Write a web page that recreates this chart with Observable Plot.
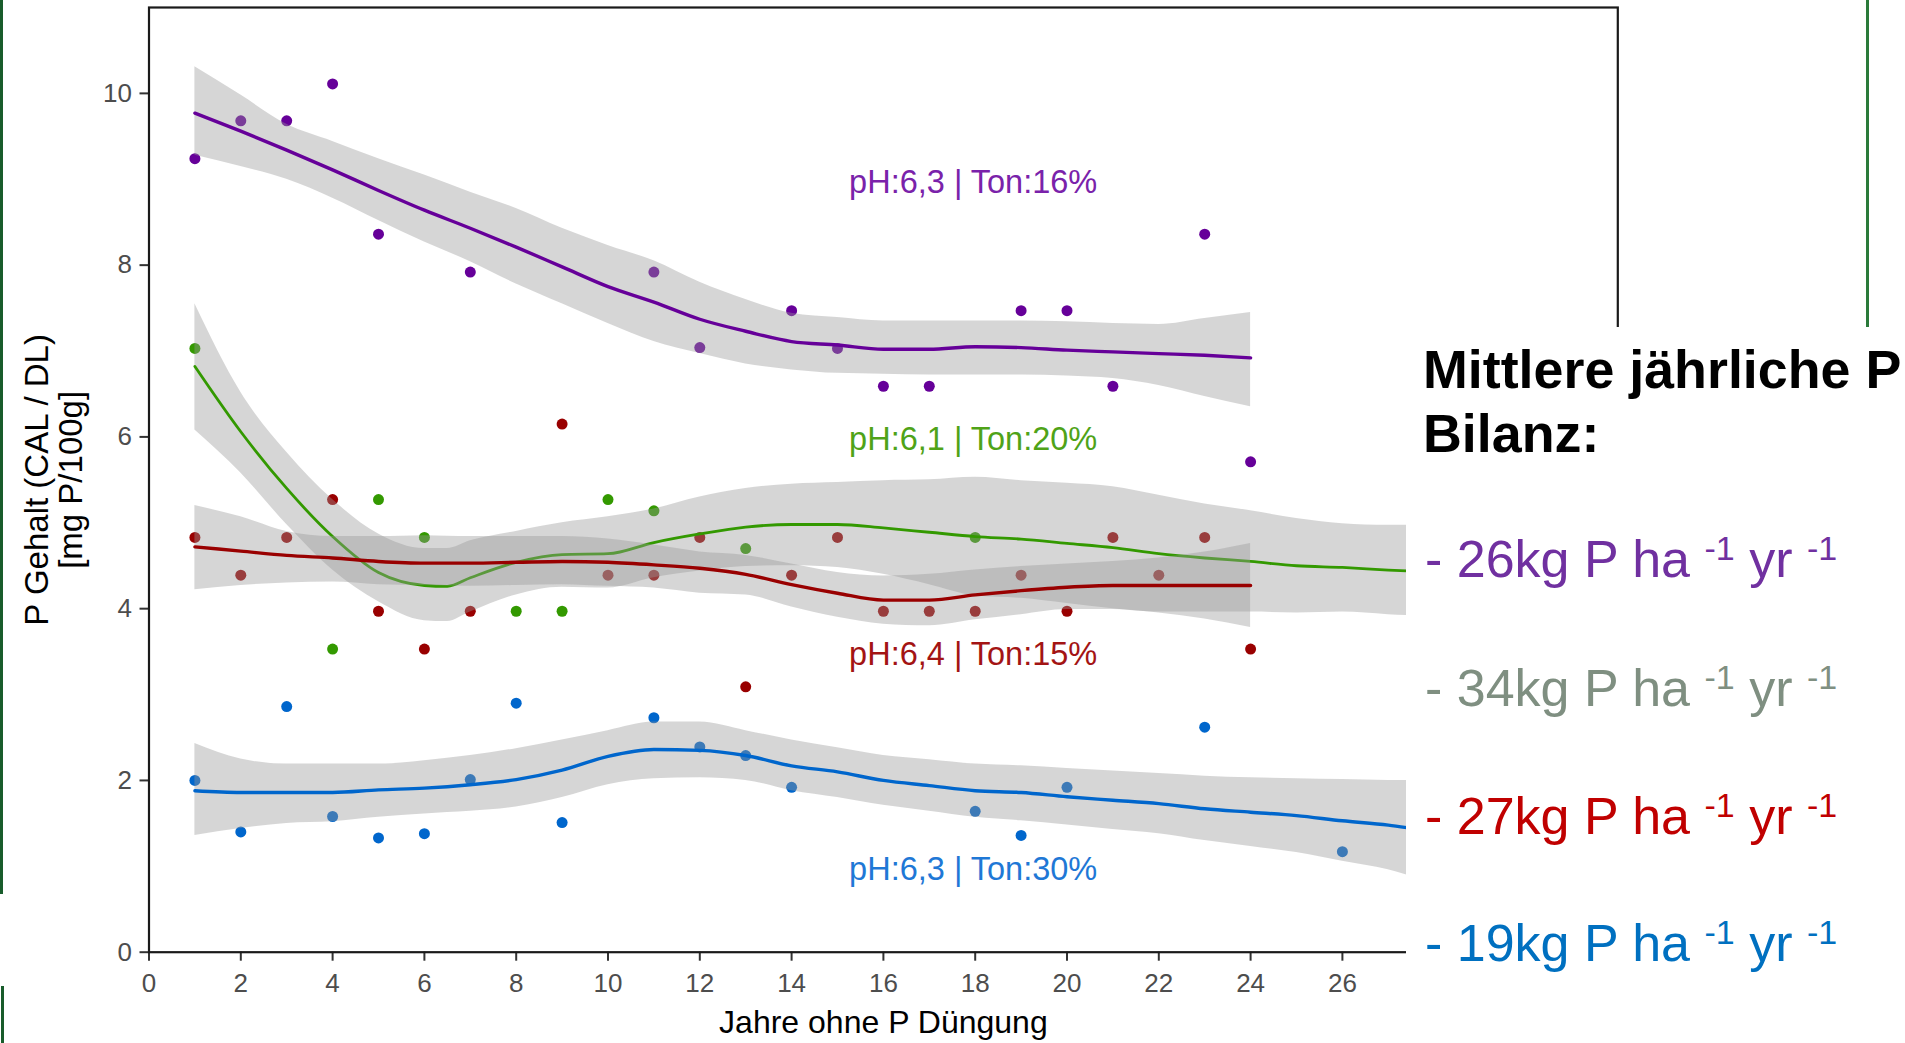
<!DOCTYPE html>
<html>
<head>
<meta charset="utf-8">
<script src="https://cdn.jsdelivr.net/npm/d3@7"></script>
<script src="https://cdn.jsdelivr.net/npm/@observablehq/plot@0.6"></script>
<style>
  html, body { margin: 0; padding: 0; background: #fff; }
  #page { position: relative; width: 1905px; height: 1043px; overflow: hidden; background: #fff;
          font-family: "Liberation Sans", Arial, sans-serif; }
  #chart { position: absolute; left: 0; top: 0; }
  #box { position: absolute; left: 1406px; top: 327px; width: 499px; height: 716px; background: #fff; }
  .deco { position: absolute; }
  .t { position: absolute; white-space: nowrap; font-size: 52px; line-height: 52px;
       font-family: "Liberation Sans", Arial, sans-serif; }
  .t.b { font-weight: bold; color: #000; font-size: 53.8px; line-height: 53.8px; }
  .t sup { font-size: 34px; vertical-align: 17px; line-height: 0; }
</style>
</head>
<body>
<div id="page">
  <div id="chart"></div>
  <div id="box"></div>
  <div class="deco" style="left:0;top:0;width:3px;height:894px;background:#185c2b"></div>
  <div class="deco" style="left:1px;top:986px;width:3px;height:57px;background:#185c2b"></div>
  <div class="deco" style="left:1866px;top:0;width:2.5px;height:327px;background:#2a7a3a"></div>
  <div id="legend"></div>
</div>
<script>
// ---------- observed points ----------
const purplePtsX = [1, 2, 3, 4, 5, 7, 11, 12, 14, 15, 16, 17, 19, 20, 21, 23, 24];
const purplePtsY = [9.24, 9.68, 9.68, 10.11, 8.36, 7.92, 7.92, 7.04, 7.47, 7.03, 6.59, 6.59, 7.47, 7.47, 6.59, 8.36, 5.71];

const greenPtsX = [1, 4, 5, 6, 8, 9, 10, 11, 13, 18];
const greenPtsY = [7.03, 3.53, 5.27, 4.83, 3.97, 3.97, 5.27, 5.14, 4.70, 4.83];

const redPtsX = [1, 2, 3, 4, 5, 6, 7, 9, 10, 11, 12, 13, 14, 15, 16, 17, 18, 19, 20, 21, 22, 23, 24];
const redPtsY = [4.83, 4.39, 4.83, 5.27, 3.97, 3.53, 3.97, 6.15, 4.39, 4.39, 4.83, 3.09, 4.39, 4.83, 3.97, 3.97, 3.97, 4.39, 3.97, 4.83, 4.39, 4.83, 3.53];

const bluePtsX = [1, 2, 3, 4, 5, 6, 7, 8, 9, 11, 12, 13, 14, 18, 19, 20, 23, 26];
const bluePtsY = [2.00, 1.40, 2.86, 1.58, 1.33, 1.38, 2.01, 2.90, 1.51, 2.73, 2.39, 2.29, 1.92, 1.64, 1.36, 1.92, 2.62, 1.17];

// ---------- smoothed fits with confidence band ----------
const purpleFitX = [1, 2, 3, 4, 5, 6, 7, 8, 9, 10, 11, 12, 13, 14, 15, 16, 17, 18, 19, 20, 21, 22, 23, 24];
const purpleFit  = [9.77, 9.56, 9.34, 9.11, 8.87, 8.64, 8.43, 8.21, 7.98, 7.75, 7.57, 7.37, 7.23, 7.11, 7.07, 7.02, 7.02, 7.05, 7.04, 7.01, 6.99, 6.97, 6.95, 6.92];
const purpleHi   = [10.31, 9.98, 9.64, 9.44, 9.24, 9.05, 8.85, 8.66, 8.43, 8.23, 8.05, 7.80, 7.60, 7.44, 7.39, 7.35, 7.35, 7.35, 7.35, 7.34, 7.32, 7.31, 7.38, 7.45];
const purpleLo   = [9.28, 9.15, 9.00, 8.78, 8.52, 8.27, 8.04, 7.78, 7.55, 7.32, 7.11, 6.97, 6.85, 6.78, 6.74, 6.73, 6.72, 6.72, 6.72, 6.71, 6.68, 6.60, 6.47, 6.35];

const greenFitX = [1, 2, 3, 4, 5, 6, 6.5, 7, 8, 9, 10, 11, 12, 13, 14, 15, 16, 17, 18, 19, 20, 21, 22, 23, 24, 25, 26, 27, 27.4];
const greenFit  = [6.82, 6.06, 5.40, 4.84, 4.42, 4.27, 4.26, 4.36, 4.54, 4.63, 4.64, 4.77, 4.87, 4.95, 4.98, 4.98, 4.94, 4.89, 4.84, 4.81, 4.76, 4.71, 4.64, 4.59, 4.55, 4.50, 4.48, 4.45, 4.44];
const greenHi   = [7.55, 6.52, 5.82, 5.27, 4.87, 4.70, 4.70, 4.79, 4.90, 5.00, 5.07, 5.16, 5.30, 5.40, 5.45, 5.47, 5.49, 5.50, 5.53, 5.49, 5.46, 5.42, 5.32, 5.22, 5.14, 5.05, 4.99, 4.97, 4.97];
const greenLo   = [6.08, 5.58, 4.98, 4.45, 4.08, 3.86, 3.85, 3.96, 4.16, 4.25, 4.24, 4.36, 4.44, 4.49, 4.50, 4.48, 4.40, 4.28, 4.15, 4.12, 4.06, 4.00, 3.96, 3.96, 3.96, 3.95, 3.96, 3.93, 3.92];

const redFitX = [1, 2, 3, 4, 5, 6, 7, 8, 9, 10, 11, 12, 13, 14, 15, 16, 17, 18, 19, 20, 21, 22, 23, 24];
const redFit  = [4.72, 4.67, 4.62, 4.59, 4.55, 4.53, 4.53, 4.54, 4.55, 4.54, 4.51, 4.47, 4.40, 4.28, 4.18, 4.10, 4.10, 4.16, 4.21, 4.25, 4.27, 4.27, 4.27, 4.27];
const redHi   = [5.20, 5.07, 4.90, 4.84, 4.84, 4.85, 4.84, 4.84, 4.84, 4.81, 4.74, 4.66, 4.62, 4.52, 4.42, 4.38, 4.40, 4.45, 4.49, 4.52, 4.55, 4.59, 4.66, 4.76];
const redLo   = [4.22, 4.27, 4.30, 4.31, 4.28, 4.27, 4.26, 4.27, 4.28, 4.26, 4.24, 4.18, 4.16, 4.02, 3.90, 3.82, 3.80, 3.87, 3.93, 3.99, 3.99, 3.95, 3.88, 3.78];

const blueFitX = [1, 2, 3, 4, 5, 6, 7, 8, 9, 10, 11, 12, 13, 14, 15, 16, 17, 18, 19, 20, 21, 22, 23, 24, 25, 26, 27, 27.4];
const blueFit  = [1.88, 1.86, 1.86, 1.86, 1.89, 1.91, 1.95, 2.01, 2.12, 2.28, 2.36, 2.35, 2.29, 2.17, 2.10, 2.00, 1.94, 1.88, 1.86, 1.81, 1.77, 1.73, 1.67, 1.63, 1.59, 1.53, 1.48, 1.45];
const blueHi   = [2.43, 2.25, 2.19, 2.19, 2.19, 2.23, 2.29, 2.37, 2.47, 2.58, 2.68, 2.68, 2.58, 2.47, 2.38, 2.29, 2.24, 2.19, 2.17, 2.14, 2.11, 2.08, 2.05, 2.03, 2.02, 2.01, 2.00, 2.00];
const blueLo   = [1.36, 1.44, 1.50, 1.52, 1.57, 1.61, 1.64, 1.69, 1.80, 1.95, 2.02, 2.03, 2.00, 1.88, 1.80, 1.71, 1.64, 1.57, 1.53, 1.48, 1.43, 1.38, 1.30, 1.23, 1.16, 1.06, 0.96, 0.90];

// ---------- labels ----------
const annotLabels = ["pH:6,3 | Ton:16%", "pH:6,1 | Ton:20%", "pH:6,4 | Ton:15%", "pH:6,3 | Ton:30%"];
const annotX = [18, 18, 18, 18];
const annotY = [9, 6, 3.5, 1];
const annotColors = ["#7a22aa", "#4fa318", "#a31414", "#1f78d6"];

const xTicks = [0, 2, 4, 6, 8, 10, 12, 14, 16, 18, 20, 22, 24, 26];
const yTicks = [0, 2, 4, 6, 8, 10];
const xTitle = "Jahre ohne P Düngung";
const yTitle = "P Gehalt (CAL / DL)\n[mg P/100g]";

const legendTitle = ["Mittlere jährliche P", "Bilanz:"];
const legendValues = [26, 34, 27, 19];
const legendColors = ["#7030a0", "#7f8f81", "#c00000", "#0070c0"];

// ---------- build ----------
const series = [
  {color: "#660099", px: purplePtsX, py: purplePtsY, fx: purpleFitX, f: purpleFit, hi: purpleHi, lo: purpleLo, w: 3.4},
  {color: "#339900", px: greenPtsX, py: greenPtsY, fx: greenFitX, f: greenFit, hi: greenHi, lo: greenLo, w: 2.8},
  {color: "#990000", px: redPtsX, py: redPtsY, fx: redFitX, f: redFit, hi: redHi, lo: redLo, w: 3.4},
  {color: "#0066cc", px: bluePtsX, py: bluePtsY, fx: blueFitX, f: blueFit, hi: blueHi, lo: blueLo, w: 3.4}
];

const marks = [];
for (const s of series) {
  const pts = s.px.map((x, i) => ({x, y: s.py[i]}));
  marks.push(Plot.dot(pts, {x: "x", y: "y", r: 5.5, fill: s.color, strokeWidth: 0}));
}
for (const s of series) {
  const rows = s.fx.map((x, i) => ({x, f: s.f[i], lo: s.lo[i], hi: s.hi[i]}));
  marks.push(Plot.areaY(rows, {x: "x", y1: "lo", y2: "hi", fill: "#999999", fillOpacity: 0.4, curve: "monotone-x"}));
  marks.push(Plot.line(rows, {x: "x", y: "f", stroke: s.color, strokeWidth: s.w, curve: "monotone-x"}));
}
annotLabels.forEach((t, i) => {
  marks.push(Plot.text([t], {x: () => annotX[i], y: () => annotY[i], text: d => d, fill: annotColors[i],
    fontSize: 32.5, dx: -2, dy: 3}));
});
marks.push(Plot.axisX({ticks: xTicks, tickSize: 9, tickPadding: 12, fontSize: 26, fill: "#4d4d4d",
  stroke: "#333333", strokeWidth: 2, label: null}));
marks.push(Plot.axisY({ticks: yTicks, tickSize: 9, tickPadding: 8, fontSize: 26, fill: "#4d4d4d",
  stroke: "#333333", strokeWidth: 2, label: null}));
marks.push(Plot.text([xTitle], {frameAnchor: "bottom", lineAnchor: "middle", dy: 71, fontSize: 32, fill: "#000"}));
marks.push(Plot.text([yTitle], {frameAnchor: "left", textAnchor: "middle", lineAnchor: "middle", rotate: -90,
  dx: -95.2, fontSize: 33, lineHeight: 1.03, fill: "#000"}));
marks.push(Plot.frame({stroke: "#1a1a1a", strokeWidth: 2.2}));

const chart = Plot.plot({
  width: 1905,
  height: 1043,
  marginLeft: 148.5,
  marginRight: 287.7,
  marginTop: 7,
  marginBottom: 91.3,
  style: {fontFamily: '"Liberation Sans", Arial, sans-serif', background: "#fff"},
  x: {domain: [0, 32]},
  y: {domain: [0, 11]},
  marks
});
document.getElementById("chart").appendChild(chart);

// ---------- right-hand text block ----------
const legend = document.getElementById("legend");
const titleTops = [342.5, 407];
legendTitle.forEach((t, i) => {
  const d = document.createElement("div");
  d.className = "t b";
  d.style.left = "1423px";
  d.style.top = titleTops[i] + "px";
  d.textContent = t;
  legend.appendChild(d);
});
const rowTops = [533, 662, 790, 917];
legendValues.forEach((v, i) => {
  const d = document.createElement("div");
  d.className = "t";
  d.style.left = "1425px";
  d.style.top = rowTops[i] + "px";
  d.style.color = legendColors[i];
  d.innerHTML = "- " + v + "kg P ha <sup>-1</sup> yr <sup>-1</sup>";
  legend.appendChild(d);
});
</script>
</body>
</html>
